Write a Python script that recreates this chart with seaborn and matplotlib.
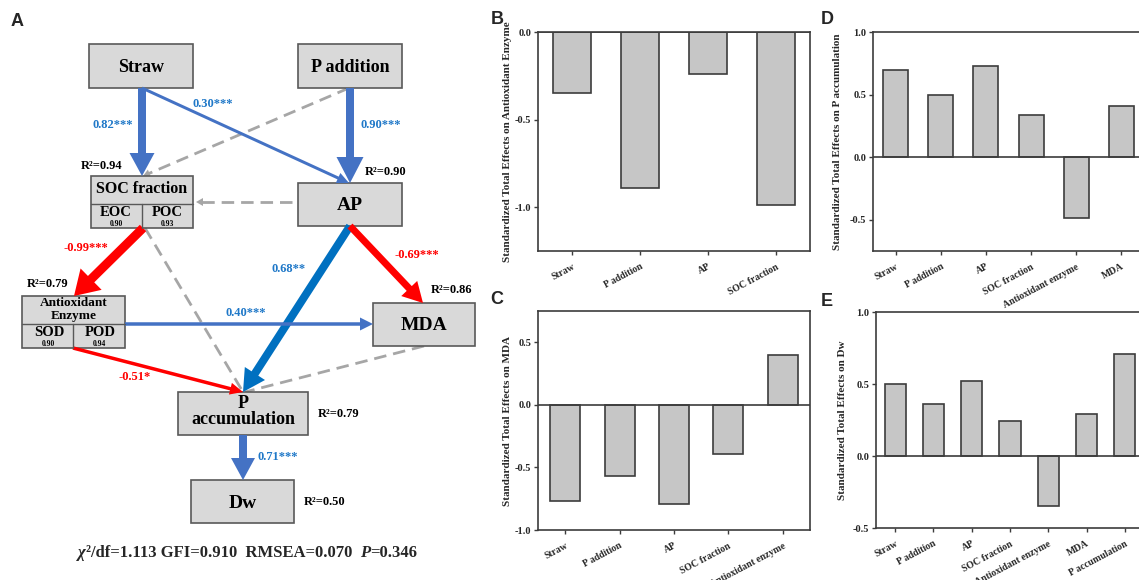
import matplotlib
matplotlib.use("Agg")
import matplotlib.pyplot as plt
import seaborn as sns
import numpy as np
from matplotlib.patches import Rectangle

# ---------------- data ----------------
cats_B = ["Straw", "P addition", "AP", "SOC fraction"]
eff_B = [-0.35, -0.89, -0.24, -0.99]
cats_C = ["Straw", "P addition", "AP", "SOC fraction", "Antioxidant enzyme"]
eff_C = [-0.77, -0.57, -0.79, -0.39, 0.40]
cats_D = ["Straw", "P addition", "AP", "SOC fraction", "Antioxidant enzyme", "MDA"]
eff_D = [0.70, 0.50, 0.73, 0.34, -0.49, 0.41]
cats_E = ["Straw", "P addition", "AP", "SOC fraction", "Antioxidant enzyme", "MDA", "P accumulation"]
eff_E = [0.50, 0.36, 0.52, 0.24, -0.35, 0.29, 0.71]

ylab_B = "Standardized Total Effects on Antioxidant Enzyme"
ylab_C = "Standardized Total Effects on MDA"
ylab_D = "Standardized Total Effects on P accumulation"
ylab_E = "Standardized Total Effects on Dw"

# SEM path coefficients (significant paths)
coef_labels = ["0.82***", "0.30***", "0.90***", "-0.99***", "0.68**", "-0.69***",
               "0.40***", "-0.51*", "0.71***"]
r2_labels = ["R\u00b2=0.94", "R\u00b2=0.90", "R\u00b2=0.79", "R\u00b2=0.86", "R\u00b2=0.79", "R\u00b2=0.50"]
sub_labels = ["EOC", "POC", "SOD", "POD"]
sub_vals = ["0.90", "0.93", "0.90", "0.94"]
fit_parts = ["\u03c7", "\u00b2/df=1.113 GFI=0.910  RMSEA=0.070  ", "P", "=0.346"]

# ---------------- style ----------------
sns.set_style("ticks")
plt.rcParams["font.family"] = ["Liberation Serif", "DejaVu Serif"]
SERIF = ["Liberation Serif", "DejaVu Serif"]
SANS = ["Liberation Sans", "DejaVu Sans"]
SPINE = "#3c3c3c"
BAR = "#C6C6C6"
BLUE = "#4472C4"
DBLUE = "#0070C0"
TBLUE = "#1F78C8"
RED = "#FF0000"
GRAY = "#A6A6A6"
BOXF = "#D9D9D9"
BOXE = "#595959"

W, H = 1139, 580
fig = plt.figure(figsize=(W / 100, H / 100), dpi=100)


def bar_panel(rect, cats, vals, ylim, yticks, ylab, labx, letter, letpos):
    ax = fig.add_axes([rect[0] / W, 1 - rect[3] / H, (rect[2] - rect[0]) / W, (rect[3] - rect[1]) / H])
    sns.barplot(x=cats, y=vals, ax=ax, color=BAR, edgecolor=SPINE, linewidth=1.2,
                width=0.55, saturation=1)
    ax.set_ylim(*ylim)
    ax.set_xlim(-0.5, len(cats) - 0.5)
    ax.axhline(0, color=SPINE, lw=1.2, zorder=5)
    ax.set_yticks(yticks)
    ax.set_yticklabels([f"{t:.1f}" for t in yticks], fontsize=7.5, fontweight="bold", family=SERIF)
    ax.set_xticks(range(len(cats)))
    ax.set_xticklabels(cats, rotation=28, ha="right", rotation_mode="anchor",
                       fontsize=7, fontweight="bold", family=SERIF)
    ax.tick_params(direction="out", length=3, width=1, color=SPINE, pad=2)
    ax.tick_params(axis="x", pad=5)
    for s in ax.spines.values():
        s.set_color(SPINE)
        s.set_linewidth(1.2)
    ax.set_ylabel(ylab, fontsize=8, fontweight="bold", family=SERIF)
    ax.yaxis.set_label_coords(labx, 0.5)
    ax.set_xlabel("")
    fig.text(letpos[0] / W, 1 - letpos[1] / H, letter, fontsize=13, fontweight="bold",
             family=SANS, ha="center", va="center")
    return ax


bar_panel((538, 32, 810, 251), cats_B, eff_B, (-1.25, 0.0), [0.0, -0.5, -1.0], ylab_B, -0.095, "B", (497, 20))
bar_panel((538, 311, 810, 530), cats_C, eff_C, (-1.0, 0.75), [0.5, 0.0, -0.5, -1.0], ylab_C, -0.095, "C", (497, 299))
bar_panel((873, 32, 1144, 251), cats_D, eff_D, (-0.75, 1.0), [1.0, 0.5, 0.0, -0.5], ylab_D, -0.113, "D", (827, 20))
bar_panel((876, 312, 1144, 528), cats_E, eff_E, (-0.5, 1.0), [1.0, 0.5, 0.0, -0.5], ylab_E, -0.11, "E", (827, 301))

# ---------------- panel A: path diagram ----------------
AW = 490
axA = fig.add_axes([0, 0, AW / W, 1])
axA.set_xlim(0, AW)
axA.set_ylim(H, 0)
axA.axis("off")


def box(x0, y0, x1, y1):
    axA.add_patch(Rectangle((x0, y0), x1 - x0, y1 - y0, fc=BOXF, ec=BOXE, lw=1.2, zorder=3))


def txt(x, y, s, size, color="black", **kw):
    axA.text(x, y, s, fontsize=size, fontweight="bold", color=color, ha="center", va="center",
             family=SERIF, zorder=6, **kw)


def arrow(p0, p1, w, hw, hl, color):
    axA.arrow(p0[0], p0[1], p1[0] - p0[0], p1[1] - p0[1], width=w, head_width=hw, head_length=hl,
              length_includes_head=True, fc=color, ec=color, lw=0, zorder=4)


def dashed(p0, p1, head=True):
    x0, y0 = p0
    x1, y1 = p1
    d = np.hypot(x1 - x0, y1 - y0)
    ux, uy = (x1 - x0) / d, (y1 - y0) / d
    end = (x1 - ux * 6, y1 - uy * 6) if head else (x1, y1)
    axA.plot([x0, end[0]], [y0, end[1]], color=GRAY, lw=2, ls=(0, (4.5, 2.5)), zorder=2)
    if head:
        axA.arrow(x1 - ux * 8, y1 - uy * 8, ux * 8, uy * 8, width=0.1, head_width=8, head_length=7,
                  length_includes_head=True, fc=GRAY, ec=GRAY, lw=0, zorder=2)


# dashed (non-significant) paths
dashed((349, 88), (143, 176))
dashed((292, 202), (196, 202))
dashed((145, 228), (243, 392), head=False)
dashed((424, 346), (245, 392), head=False)

# significant paths
arrow((142, 88), (142, 176), 8, 25, 23, BLUE)          # Straw -> SOC
arrow((142, 88), (349, 183), 3, 11, 12, BLUE)          # Straw -> AP
arrow((350, 88), (350, 183), 8, 27, 26, BLUE)          # P addition -> AP
arrow((143, 228), (74, 296), 9, 30, 24, RED)           # SOC -> Antioxidant
arrow((350, 226), (243, 392), 8, 24, 22, DBLUE)        # AP -> P accumulation
arrow((350, 226), (423, 303), 7, 22, 20, RED)          # AP -> MDA
arrow((125, 324), (373, 324), 3.5, 13, 13, BLUE)       # Antioxidant -> MDA
arrow((73, 348), (243, 392), 3.5, 12, 13, RED)         # Antioxidant -> P accumulation
arrow((243, 435), (243, 480), 8, 24, 22, BLUE)         # P accumulation -> Dw

# boxes
box(89, 44, 193, 88)
box(298, 44, 402, 88)
box(91, 176, 193, 228)
axA.plot([91, 193], [204, 204], color=BOXE, lw=1, zorder=5)
axA.plot([142, 142], [204, 228], color=BOXE, lw=1, zorder=5)
box(298, 183, 402, 226)
box(22, 296, 125, 348)
axA.plot([22, 125], [324, 324], color=BOXE, lw=1, zorder=5)
axA.plot([73, 73], [324, 348], color=BOXE, lw=1, zorder=5)
box(373, 303, 475, 346)
box(178, 392, 308, 435)
box(191, 480, 294, 523)

# node text
txt(141, 67, "Straw", 13)
txt(350, 67, "P addition", 13)
txt(142, 189, "SOC fraction", 11.5)
txt(116, 212, sub_labels[0], 10.5)
txt(167, 212, sub_labels[1], 10.5)
txt(116, 224, sub_vals[0], 5.5)
txt(167, 224, sub_vals[1], 5.5)
txt(350, 205, "AP", 14)
txt(74, 303, "Antioxidant", 9.5)
txt(74, 316.5, "Enzyme", 9.5)
txt(49, 333, sub_labels[2], 10.5)
txt(100, 333, sub_labels[3], 10.5)
txt(48, 344, sub_vals[2], 5.5)
txt(99, 344, sub_vals[3], 5.5)
txt(424, 326, "MDA", 14)
txt(243, 404, "P", 13)
txt(243, 420, "accumulation", 13)
txt(243, 503, "Dw", 14)

# coefficients
txt(113, 125, coef_labels[0], 9, TBLUE)
txt(213, 104, coef_labels[1], 9, TBLUE)
txt(381, 125, coef_labels[2], 9, TBLUE)
txt(86, 248, coef_labels[3], 9, RED)
txt(289, 269, coef_labels[4], 9, TBLUE)
txt(417, 255, coef_labels[5], 9, RED)
txt(246, 313, coef_labels[6], 9, TBLUE)
txt(135, 377, coef_labels[7], 9, RED)
txt(278, 457, coef_labels[8], 9, TBLUE)

# R2
txt(102, 166, r2_labels[0], 9)
txt(386, 172, r2_labels[1], 9)
txt(48, 284, r2_labels[2], 9)
txt(452, 290, r2_labels[3], 9)
txt(339, 414, r2_labels[4], 9)
txt(325, 502, r2_labels[5], 9)

# panel letter A
fig.text(17 / W, 1 - 21 / H, "A", fontsize=13, fontweight="bold", family=SANS, ha="center", va="center")

# fit statistics (chained text pieces)
FS = 12
t = axA.text(78, 557, fit_parts[0], fontsize=FS, fontweight="bold", style="italic",
             family=SERIF, ha="left", va="baseline")
t = axA.annotate(fit_parts[1], xy=(1, 0), xycoords=t, fontsize=FS, fontweight="bold",
                 family=SERIF, ha="left", va="bottom")
t = axA.annotate(fit_parts[2], xy=(1, 0), xycoords=t, fontsize=FS, fontweight="bold", style="italic",
                 family=SERIF, ha="left", va="bottom")
t = axA.annotate(fit_parts[3], xy=(1, 0), xycoords=t, fontsize=FS, fontweight="bold",
                 family=SERIF, ha="left", va="bottom")

fig.savefig("out.png", dpi=100)
